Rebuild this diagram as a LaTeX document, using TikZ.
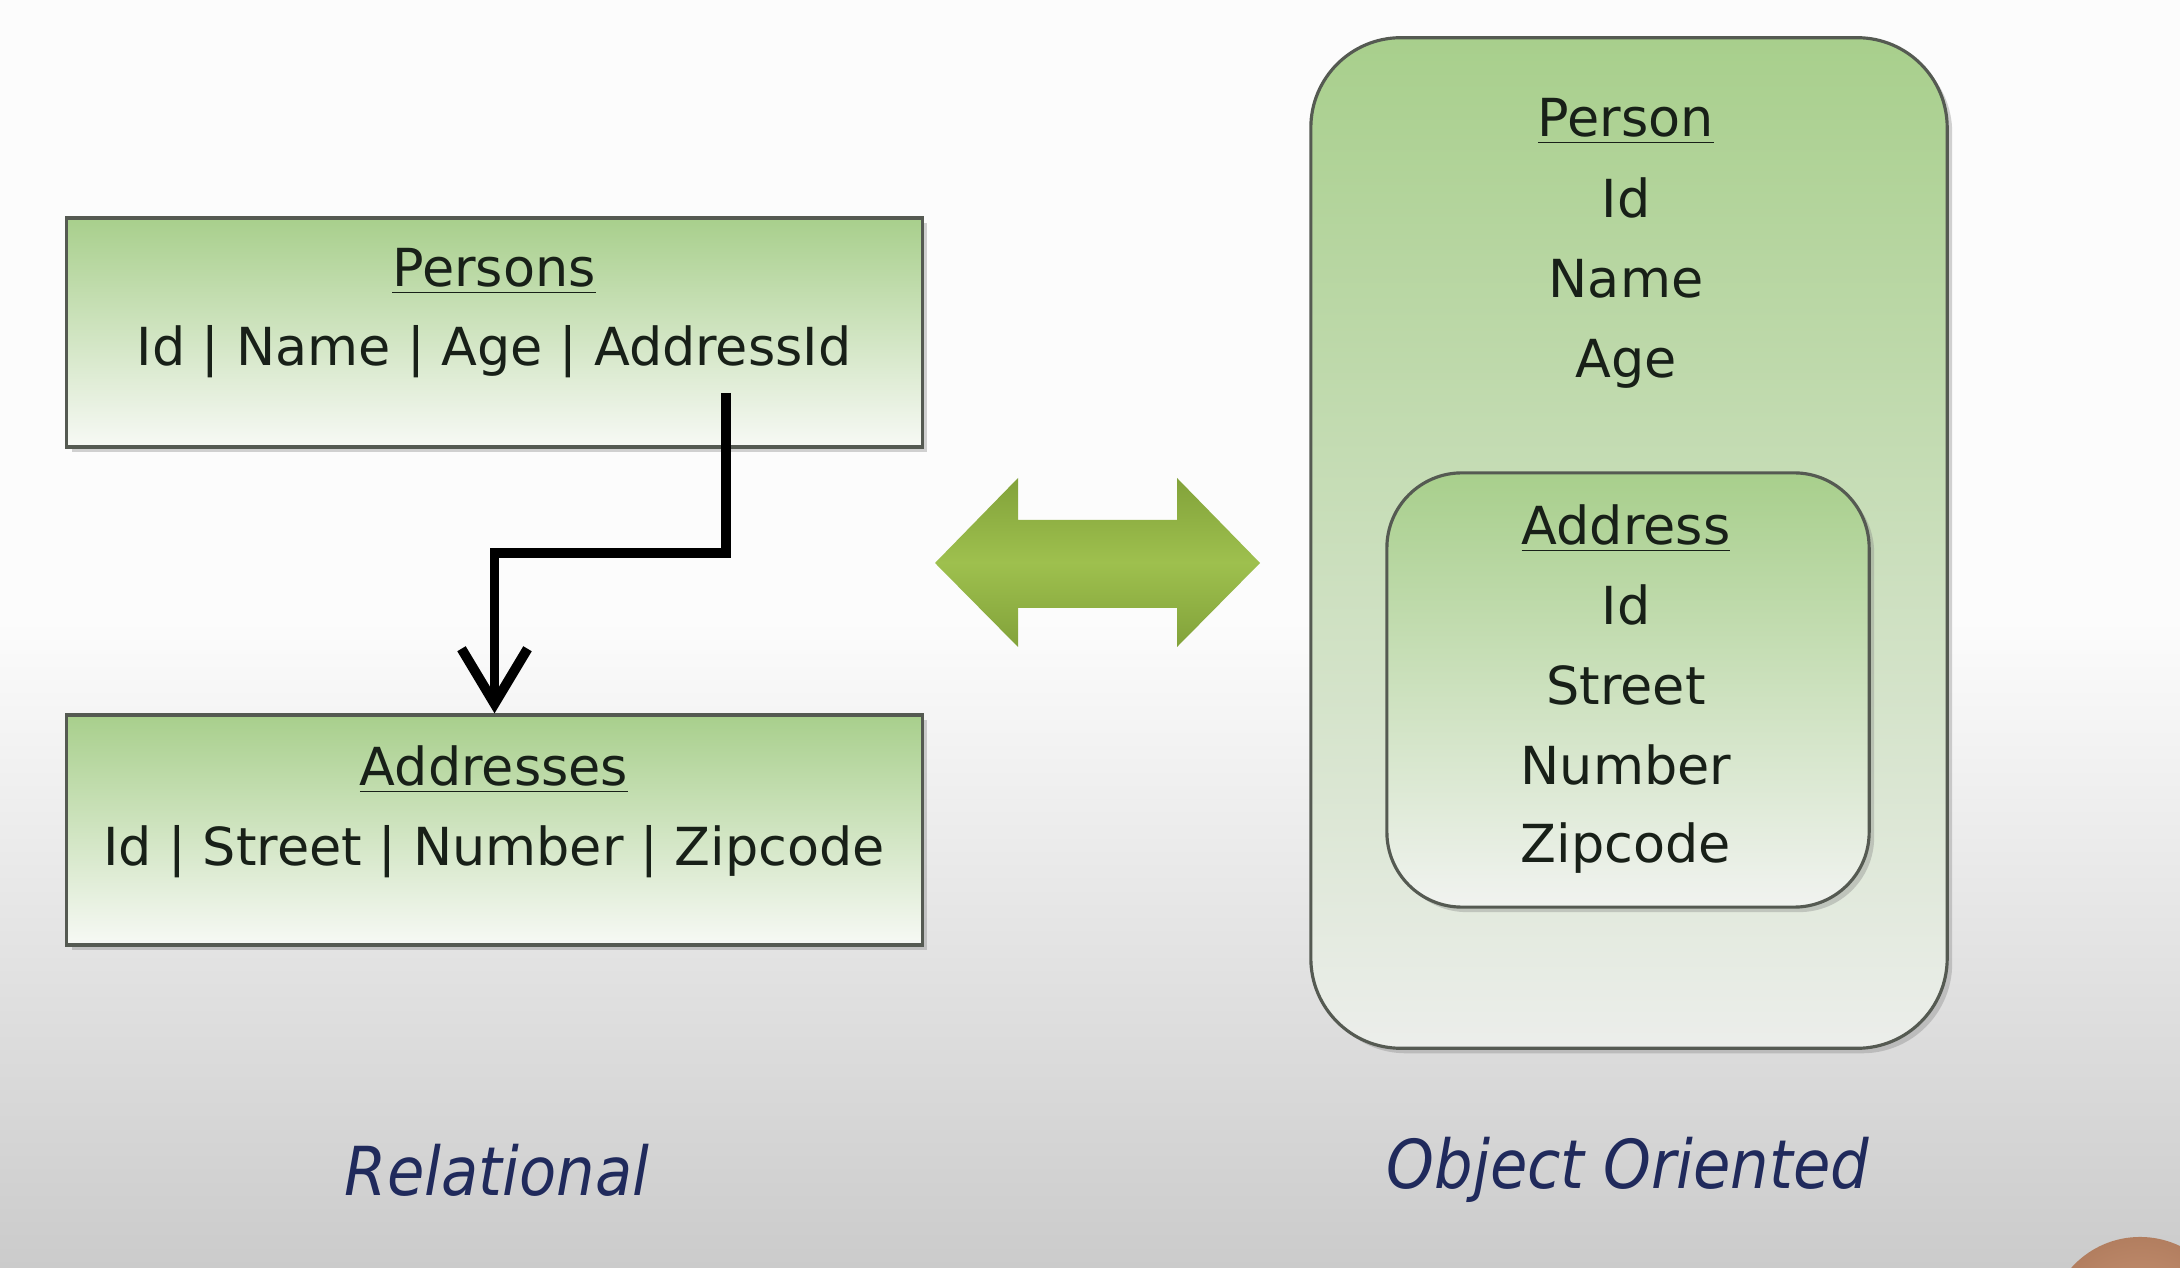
\documentclass[tikz,border=0pt]{standalone}
\usepackage{fontspec}
\setmainfont{DejaVu Sans}
\newfontfamily\labelfont[FakeStretch=0.9]{DejaVu Sans}
\usetikzlibrary{arrows.meta,shadows}
\definecolor{bggray}{RGB}{203,203,203}
\definecolor{bgtop}{RGB}{252,252,252}
\definecolor{boxgreen}{RGB}{168,207,140}
\definecolor{boxwhite}{RGB}{247,249,245}
\definecolor{txtdark}{RGB}{24,32,24}
\definecolor{navy}{RGB}{32,42,92}
\definecolor{arrowgreen}{RGB}{158,192,78}
\definecolor{arrowdark}{RGB}{130,162,58}
\definecolor{avatar}{RGB}{198,140,106}
\definecolor{edgegray}{RGB}{85,90,82}
\begin{document}
\begin{tikzpicture}[x=0.01cm,y=-0.01cm,
  tbl/.style={rectangle, draw=edgegray, line width=0.9pt, top color=boxgreen,
    bottom color=boxwhite, inner sep=0pt,
    drop shadow={shadow xshift=0.05cm, shadow yshift=-0.05cm, opacity=0.35}},
  objbox/.style={rectangle, draw=edgegray, line width=0.9pt, inner sep=0pt,
    drop shadow={shadow xshift=0.05cm, shadow yshift=-0.05cm, opacity=0.35}},
  boxtxt/.style={font=\fontsize{14.9pt}{17pt}\selectfont, text=txtdark,
    anchor=base, inner sep=0pt},
  lbl/.style={font=\labelfont\itshape\fontsize{19.2pt}{22pt}\selectfont,
    text=navy, anchor=base, inner sep=0pt},
  conn/.style={line width=2.8pt, -{Straight Barb[length=0.55cm, width=0.66cm]}}
]
\useasboundingbox (0,0) rectangle (2180,1268);
\begin{scope}
\clip (0,0) rectangle (2180,1268);
% background
\fill[bgtop] (0,0) rectangle (2180,621);
\shade[top color=bgtop, bottom color=bggray] (0,620) rectangle (2180,1268);
% avatar corner
\shade[inner color=avatar!90!white, outer color=avatar!90!black] (2140,1329) circle (0.92cm);
\end{scope}

% relational tables
\node[tbl, minimum width=8.55cm, minimum height=2.29cm] (persons) at (494.5,332.5) {};
\node[tbl, minimum width=8.55cm, minimum height=2.30cm] (addresses) at (494.5,830) {};
\node[boxtxt] (personsT) at (494,287) {\underline{Persons}};
\node[boxtxt] (personsR) at (494,366) {Id | Name | Age | AddressId};
\node[boxtxt] (addressesT) at (494,786) {\underline{Addresses}};
\node[boxtxt] (addressesR) at (494,866) {Id | Street | Number | Zipcode};

% foreign key connector
\coordinate (fk) at (726,393);
\coordinate (jog) at (726,553);
\draw[conn] (fk) -- (jog) -| (addresses.north);

% double arrow
\shade[top color=arrowdark, bottom color=arrowdark, middle color=arrowgreen]
  (935,563) -- (1018,478) -- (1018,520) -- (1177,520) -- (1177,478) -- (1260,563)
  -- (1177,647) -- (1177,608) -- (1018,608) -- (1018,647) -- cycle;

% object oriented
\node[objbox, rounded corners=0.9cm, minimum width=6.36cm, minimum height=10.10cm,
  top color=boxgreen, middle color={rgb,255:red,210;green,229;blue,196},
  bottom color={rgb,255:red,236;green,238;blue,235}] (person) at (1629,543) {};
\node[objbox, rounded corners=0.75cm, minimum width=4.82cm, minimum height=4.34cm,
  top color=boxgreen, middle color={rgb,255:red,214;green,232;blue,202},
  bottom color={rgb,255:red,241;green,243;blue,240}] (address) at (1628,690) {};

\node[boxtxt] (personT) at (1626,137) {\underline{Person}};
\node[boxtxt] (personId) at (1626,218) {Id};
\node[boxtxt] (personName) at (1626,298) {Name};
\node[boxtxt] (personAge) at (1626,378) {Age};

\node[boxtxt] (addressT) at (1626,545) {\underline{Address}};
\node[boxtxt] (addressId) at (1626,625) {Id};
\node[boxtxt] (addressStreet) at (1626,705) {Street};
\node[boxtxt] (addressNumber) at (1626,785) {Number};
\node[boxtxt] (addressZip) at (1626,863) {Zipcode};

% captions
\node[lbl] (relational) at (497,1195) {Relational};
\node[lbl] (objectoriented) at (1628,1188) {Object Oriented};
\end{tikzpicture}
\end{document}
